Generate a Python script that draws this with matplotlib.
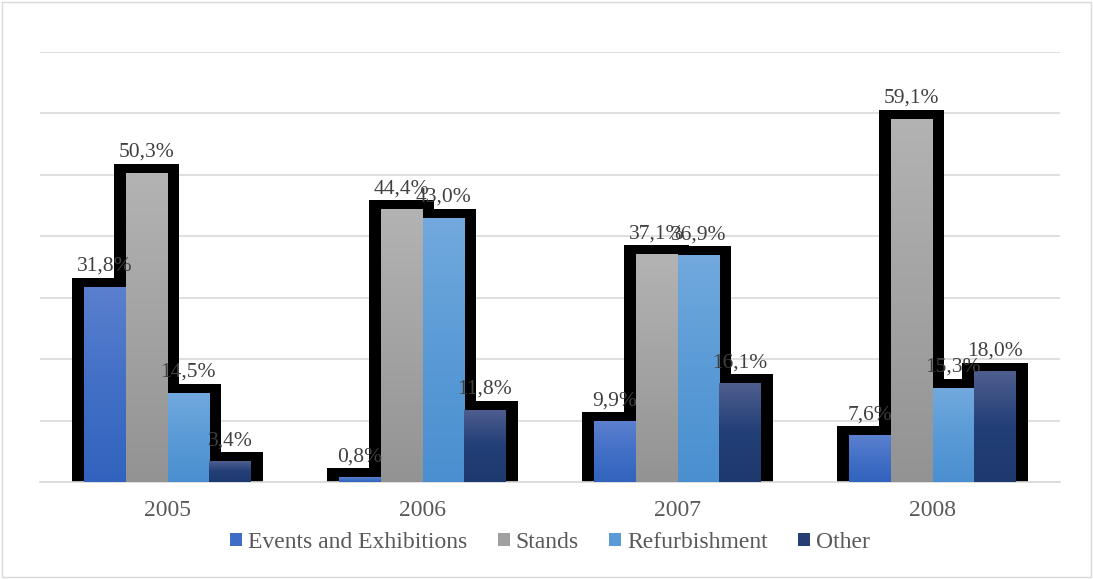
import numpy as np
import matplotlib
matplotlib.use("Agg")
import matplotlib.pyplot as plt
from matplotlib.colors import LinearSegmentedColormap
from matplotlib.patches import Patch, Rectangle

years = ['2005', '2006', '2007', '2008']
series = ['Events and Exhibitions', 'Stands', 'Refurbishment', 'Other']
events = [31.8, 0.8, 9.9, 7.6]
stands = [50.3, 44.4, 37.1, 59.1]
refurb = [14.5, 43.0, 36.9, 15.3]
other = [3.4, 11.8, 16.1, 18.0]
values = [events, stands, refurb, other]

# gradient stops per series (top -> bottom)
grads = [
    ['#5b80cf', '#4270c6', '#3163be'],
    ['#b3b3b3', '#a3a3a3', '#939393'],
    ['#72a9de', '#5a9bd6', '#4a8fd0'],
    ['#4f5e8f', '#223f77', '#1e396d'],
]
legend_cols = ['#3f6dc6', '#a0a0a0', '#5a9ad6', '#253f75']

plt.rcParams['font.family'] = ['Liberation Serif', 'DejaVu Serif']

fig = plt.figure(figsize=(10.93, 5.79), dpi=100)
ax = fig.add_axes([40 / 1093, 1 - 482 / 579, 1020 / 1093, 430 / 579])

x = np.arange(len(years))
w = 0.163
pad_x = 0.047
pad_y = 1.45

# black outline behind each group
for i, vals in enumerate(values):
    pos = x + (i - 1.5) * w
    ax.bar(pos, np.array(vals) + pad_y, width=w + 2 * pad_x, color='black',
           zorder=2, linewidth=0)

for i, vals in enumerate(values):
    pos = x + (i - 1.5) * w
    bars = ax.bar(pos, vals, width=w, color='none', linewidth=0, zorder=3)
    cmap = LinearSegmentedColormap.from_list('g%d' % i, grads[i][::-1])
    grad = np.linspace(0, 1, 256).reshape(-1, 1)
    for b, v in zip(bars, vals):
        x0 = b.get_x()
        im = ax.imshow(grad, cmap=cmap, origin='lower', aspect='auto',
                       extent=[x0, x0 + w, 0, v], zorder=3)
        im.set_clip_path(b)
        lab = ('%.1f%%' % v).replace('.', ',')
        ax.annotate(lab, (x0 + w / 2, v), xytext=(0, 11.5),
                    textcoords='offset points', ha='center', va='baseline',
                    fontsize=15.5, color='#404040', zorder=5)

ax.set_xlim(-0.5, 3.5)
ax.set_ylim(0, 70)
ax.set_yticks(np.arange(0, 71, 10))
ax.set_yticklabels([])
ax.yaxis.grid(True, color='#d9d9d9', linewidth=1.2)
ax.set_axisbelow(True)
ax.tick_params(axis='y', length=0)
ax.set_xticks(x)
ax.set_xticklabels(years, fontsize=17, color='#595959')
ax.tick_params(axis='x', length=0, pad=13)
for s in ['top', 'right', 'left']:
    ax.spines[s].set_visible(False)
ax.spines['bottom'].set_color('#d9d9d9')
ax.spines['bottom'].set_linewidth(1.2)

handles = [Patch(facecolor=c, edgecolor='none') for c in legend_cols]
ax.legend(handles, series, loc='center', bbox_to_anchor=(0.5, -0.14),
          ncol=4, frameon=False, fontsize=17, handlelength=0.5,
          handleheight=0.5, handletextpad=0.25, columnspacing=1.3,
          labelcolor='#595959', borderpad=0, borderaxespad=0)

fig.patches.append(Rectangle((0.002, 0.003), 0.996, 0.994, transform=fig.transFigure,
                             fill=False, edgecolor='#d9d9d9', linewidth=1))

fig.savefig('out.png', dpi=100)
